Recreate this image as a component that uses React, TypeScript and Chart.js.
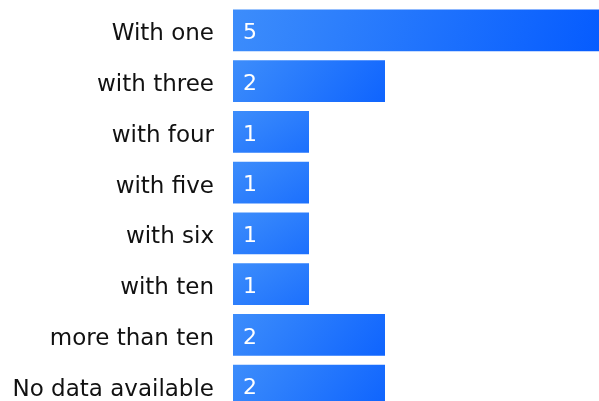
import React, { useEffect, useRef } from "react";
import { Chart, registerables } from "chart.js";

Chart.register(...registerables);

const categories = [
  "With one",
  "with three",
  "with four",
  "with five",
  "with six",
  "with ten",
  "more than ten",
  "No data available",
];
const values = [5, 2, 1, 1, 1, 1, 2, 2];
const axisMin = 0;
const axisMax = 5;

const FONT = "'DejaVu Sans'";
const BAR_PCT = 0.82;

const valueLabels = {
  id: "valueLabels",
  afterDatasetsDraw(chart: any) {
    const ctx = chart.ctx;
    const meta = chart.getDatasetMeta(0);
    ctx.save();
    ctx.fillStyle = "#ffffff";
    ctx.font = `22px ${FONT}`;
    ctx.textAlign = "left";
    ctx.textBaseline = "middle";
    meta.data.forEach((el: any, i: number) => {
      ctx.fillText(String(values[i]), el.base + 10, el.y + 3);
    });
    ctx.restore();
  },
};

export default function App() {
  const ref = useRef<HTMLCanvasElement | null>(null);
  useEffect(() => {
    if (!ref.current) return;
    const chart = new Chart(ref.current, {
      type: "bar",
      data: {
        labels: categories,
        datasets: [
          {
            data: values,
            backgroundColor: (c: any) => {
              const ch = c.chart;
              const xs = ch.scales?.x;
              const ys = ch.scales?.y;
              if (!xs || !ys || !ch.chartArea || c.dataIndex === undefined) return "#2a7bfd";
              const i = c.dataIndex;
              const left = xs.getPixelForValue(axisMin);
              const right = xs.getPixelForValue(values[i]);
              const h = (ys.height / categories.length) * BAR_PCT;
              const top = ys.getPixelForValue(i) - h / 2;
              if (!isFinite(left) || !isFinite(right) || !isFinite(top)) return "#2a7bfd";
              const g = ch.ctx.createLinearGradient(left, top, right, top + 118);
              g.addColorStop(0, "#3d8dfb");
              g.addColorStop(1, "#0057ff");
              return g;
            },
            borderWidth: 0,
            categoryPercentage: 1,
            barPercentage: BAR_PCT,
          },
        ],
      },
      options: {
        indexAxis: "y",
        responsive: false,
        animation: false,
        layout: { padding: { top: 5, bottom: 4, left: 0, right: 0 } },
        plugins: {
          legend: { display: false },
          tooltip: { enabled: false },
        },
        scales: {
          x: {
            display: false,
            min: axisMin,
            max: axisMax,
          },
          y: {
            grid: { display: false, drawTicks: false },
            border: { display: false },
            ticks: {
              color: "#111111",
              padding: 19,
              labelOffset: 4,
              font: { family: FONT, size: 23 },
            },
            afterFit: (s: any) => {
              s.width = 233;
              s.paddingTop = 0;
              s.paddingBottom = 0;
            },
          },
        },
      },
      plugins: [valueLabels],
    });
    return () => chart.destroy();
  }, []);
  return (
    <div
      style={{
        position: "fixed",
        left: 0,
        top: 0,
        width: 599,
        height: 401,
        overflow: "hidden",
        background: "#ffffff",
      }}
    >
      <canvas ref={ref} width={613} height={415} style={{ display: "block" }} />
    </div>
  );
}
